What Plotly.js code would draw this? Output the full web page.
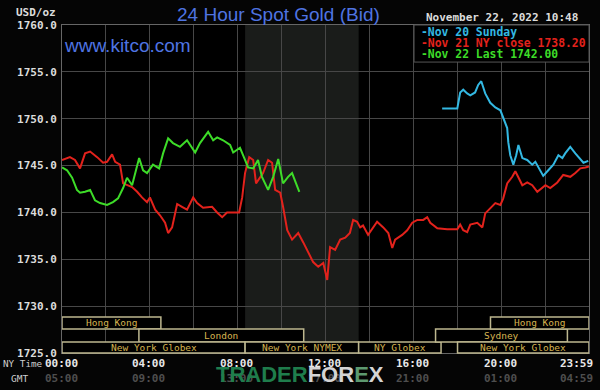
<!DOCTYPE html>
<html>
<head>
<meta charset="utf-8">
<script src="https://cdn.plot.ly/plotly-3.0.1.min.js"></script>
<style>
  html, body { margin: 0; padding: 0; background: #000; }
  #chart { width: 600px; height: 390px; }
</style>
</head>
<body>
<div id="chart"></div>
<script>
// ---- data (hours since 00:00 NY time, price USD/oz) ----
const redT = [0,0.36,0.59,0.82,1.05,1.28,1.6,1.87,2.05,2.28,2.42,2.64,2.78,2.96,3.19,3.42,3.64,3.87,4.0,4.24,4.46,4.69,4.83,5.01,5.24,5.46,5.69,5.97,6.15,6.42,6.83,7.06,7.29,7.51,7.8,8.06,8.2,8.33,8.52,8.7,8.83,9.02,9.15,9.38,9.56,9.7,9.93,10.06,10.25,10.47,10.75,10.98,11.2,11.43,11.66,11.89,12.07,12.2,12.43,12.66,12.89,13.1,13.25,13.43,13.57,13.7,13.93,14.16,14.34,14.62,14.85,15.03,15.16,15.48,15.71,15.94,16.17,16.44,16.62,16.76,17.08,17.53,17.99,18.12,18.26,18.44,18.58,18.9,19.13,19.26,19.49,19.72,19.95,20.08,20.26,20.49,20.63,20.77,20.95,21.17,21.4,21.63,21.86,22.0,22.22,22.54,22.81,23.13,23.36,23.59,23.82,23.98];
const redP = [1745.6,1745.9,1745.6,1744.7,1746.3,1746.5,1745.9,1745.3,1745.4,1746.2,1745.4,1745.1,1743.1,1742.9,1742.7,1742.2,1741.6,1741.1,1741.6,1740.3,1739.7,1738.9,1737.8,1738.4,1740.9,1740.6,1740.3,1741.6,1741.0,1740.5,1740.6,1740.0,1739.5,1740.0,1740.0,1740.0,1741.6,1744.2,1745.9,1745.6,1743.1,1743.8,1744.2,1745.6,1745.3,1742.4,1742.1,1740.6,1738.1,1737.1,1737.8,1736.8,1735.8,1734.7,1734.2,1734.6,1732.8,1736.3,1736.0,1737.1,1737.3,1737.8,1739.2,1739.0,1738.4,1738.6,1737.6,1738.4,1739.0,1738.4,1737.8,1736.2,1737.1,1737.6,1738.1,1738.9,1739.2,1739.2,1739.5,1738.9,1738.3,1738.2,1738.2,1738.7,1738.1,1737.9,1738.7,1738.9,1738.4,1739.9,1740.5,1741.0,1740.8,1741.5,1743.1,1743.8,1744.4,1743.8,1742.9,1743.2,1742.9,1742.2,1742.7,1742.9,1742.6,1743.2,1744.0,1743.8,1744.2,1744.7,1744.8,1744.9];

const greenT = [0,0.23,0.46,0.68,0.82,1.05,1.28,1.5,1.73,2.05,2.32,2.55,2.78,2.96,3.19,3.32,3.51,3.69,3.87,4.14,4.42,4.6,4.83,5.05,5.37,5.69,6.06,6.28,6.65,6.88,7.06,7.33,7.65,7.79,8.1,8.33,8.47,8.7,8.92,9.1,9.38,9.61,9.84,10.06,10.29,10.47,10.7,10.8];
const greenP = [1744.8,1744.5,1743.7,1742.4,1742.1,1742.2,1742.4,1741.3,1741.0,1740.8,1741.1,1741.5,1742.6,1743.7,1742.9,1744.2,1745.8,1744.5,1744.2,1745.1,1744.7,1746.3,1747.9,1747.4,1747.0,1747.7,1746.4,1747.4,1748.6,1747.7,1748.0,1747.7,1747.2,1746.4,1746.9,1745.6,1744.8,1744.7,1745.6,1743.8,1742.4,1743.8,1745.7,1743.1,1743.8,1744.2,1742.7,1742.2];

const blueT = [17.3,17.99,18.12,18.26,18.44,18.58,18.8,18.94,19.08,19.26,19.49,19.72,19.95,20.08,20.26,20.31,20.4,20.54,20.67,20.77,20.95,21.17,21.4,21.54,21.77,21.9,22.13,22.36,22.59,22.77,22.9,23.13,23.36,23.59,23.73,23.95];
const blueP = [1751.1,1751.1,1752.8,1753.1,1752.7,1752.5,1752.8,1753.6,1754.0,1752.7,1751.7,1751.2,1750.9,1750.1,1749.0,1747.5,1746.1,1745.1,1746.1,1747.2,1745.8,1745.6,1745.1,1745.4,1744.5,1743.9,1744.5,1745.1,1746.1,1745.8,1746.3,1747.0,1746.3,1745.7,1745.3,1745.5];

const seriesLabels = ['-Nov 20 Sunday', '-Nov 21 NY close 1738.20', '-Nov 22 Last 1742.00'];

// x tick labels
const tickHours = [0, 4, 8, 12, 16, 20, 23.983];
const nyLabels  = ['00:00','04:00','08:00','12:00','16:00','20:00','23:59'];
const gmtLabels = ['05:00','09:00','13:00','17:00','21:00','01:00','04:59'];

// trading sessions
const sessionNames = ['Hong Kong','London','New York Globex','New York NYMEX','NY Globex','Sydney','Hong Kong','New York Globex'];
const sessionStart = [0, 3.5, 0, 8.333, 13.5, 17, 19.5, 18];
const sessionEnd   = [4.5, 11, 8.333, 13.5, 17.25, 23, 23.983, 23.983];
const sessionRow   = [2, 1, 0, 0, 0, 1, 2, 0];

const nymexStart = 8.333, nymexEnd = 13.5;

// ---- styles ----
const MONO = 'DejaVu Sans Mono, monospace';
const SANS = 'Liberation Sans, Arial, sans-serif';
const COL_RED = '#e3221c', COL_GREEN = '#3ddc28', COL_BLUE = '#33b8e2';
const GOLD = '#d6b450', BOXLINE = '#bdb78f';

const traces = [
  {x: redT, y: redP, mode: 'lines', line: {color: COL_RED, width: 2}, name: seriesLabels[1]},
  {x: greenT, y: greenP, mode: 'lines', line: {color: COL_GREEN, width: 2}, name: seriesLabels[2]},
  {x: blueT, y: blueP, mode: 'lines', line: {color: COL_BLUE, width: 2}, name: seriesLabels[0]}
];

const rowY = [[0, 0.0335], [0.0335, 0.073], [0.073, 0.11]];

const shapes = [
  {type: 'rect', xref: 'x', yref: 'paper', x0: nymexStart, x1: nymexEnd, y0: 0, y1: 1,
   fillcolor: '#1a1c1a', line: {width: 0}, layer: 'below'}
];
const annotations = [];

sessionNames.forEach((n, i) => {
  const r = rowY[sessionRow[i]];
  shapes.push({type: 'rect', xref: 'x', yref: 'paper', x0: sessionStart[i], x1: sessionEnd[i],
    y0: r[0], y1: r[1], fillcolor: '#000', line: {color: BOXLINE, width: 1.5}, layer: 'above'});
  annotations.push({xref: 'x', yref: 'paper', x: (sessionStart[i] + sessionEnd[i]) / 2,
    y: (r[0] + r[1]) / 2, text: n, showarrow: false, xanchor: 'center', yanchor: 'middle',
    font: {family: MONO, size: 9.5, color: GOLD}});
});

// legend box
shapes.push({type: 'rect', xref: 'paper', yref: 'paper', x0: 0.668, x1: 1, y0: 0.887, y1: 1,
  fillcolor: '#000', line: {color: '#555', width: 1}, layer: 'above'});
const legendColors = [COL_BLUE, COL_RED, COL_GREEN];
const legendY = [0.9787, 0.945, 0.9116];
seriesLabels.forEach((t, i) => {
  annotations.push({xref: 'paper', yref: 'paper', x: 0.6774, y: legendY[i], text: t,
    showarrow: false, xanchor: 'left', yanchor: 'middle',
    font: {family: MONO, size: 11.4, color: legendColors[i], weight: 'bold'}});
});

// x tick labels
tickHours.forEach((h, i) => {
  const last = i === tickHours.length - 1;
  annotations.push({xref: 'x', yref: 'paper', x: h, y: 0, yshift: -10, text: nyLabels[i],
    showarrow: false, xanchor: last ? 'right' : 'center', xshift: last ? 6 : -1, yanchor: 'middle',
    font: {family: MONO, size: 11, color: '#e8e8e8', weight: 'bold'}});
  annotations.push({xref: 'x', yref: 'paper', x: h, y: 0, yshift: -25, text: gmtLabels[i],
    showarrow: false, xanchor: last ? 'right' : 'center', xshift: last ? 6 : -1, yanchor: 'middle',
    font: {family: MONO, size: 11, color: '#4e4e4e', weight: 'bold'}});
});

annotations.push(
  {xref: 'paper', yref: 'paper', x: 0, xshift: -61, y: 0, yshift: -10, text: 'NY Time',
   showarrow: false, xanchor: 'left', yanchor: 'middle', font: {family: MONO, size: 9.3, color: '#cfcfcf'}},
  {xref: 'paper', yref: 'paper', x: 0, xshift: -53, y: 0, yshift: -25, text: 'GMT',
   showarrow: false, xanchor: 'left', yanchor: 'middle', font: {family: MONO, size: 9.5, color: '#cfcfcf'}},
  {xref: 'paper', yref: 'paper', x: 0, xshift: -4, y: 1, yshift: 13, text: 'USD/oz',
   showarrow: false, xanchor: 'right', yanchor: 'middle', font: {family: MONO, size: 11, color: '#dcdcdc', weight: 'bold'}},
  {xref: 'paper', yref: 'paper', x: 0, xshift: 0, y: 0.939, text: 'www.kitco.com',
   showarrow: false, xanchor: 'left', yanchor: 'middle', font: {family: SANS, size: 19, color: '#4f74e2'}},
  {xref: 'paper', yref: 'paper', x: 0.834, y: 1, yshift: 8, text: 'November 22, 2022 10:48',
   showarrow: false, xanchor: 'center', yanchor: 'middle', font: {family: MONO, size: 11, color: '#dcdcdc', weight: 'bold'}},
  {xref: 'paper', yref: 'paper', x: 0.4516, y: 0, yshift: -21,
   text: '<span style="color:#1f7d4c">TRADER</span><span style="color:#d4d4d4">FOR</span><span style="color:#5d9a70">E</span><span style="color:#d4d4d4">X</span>',
   showarrow: false, xanchor: 'center', yanchor: 'middle', font: {family: SANS, size: 22, weight: 'bold', color: '#d4d4d4'}}
);

const layout = {
  width: 600, height: 390,
  paper_bgcolor: '#050505', plot_bgcolor: '#000',
  margin: {l: 62, r: 11, t: 25, b: 37},
  showlegend: false,
  title: {text: '24 Hour Spot Gold (Bid)', x: 0.464, xref: 'container', xanchor: 'center',
          y: 0.964, yref: 'container', yanchor: 'middle',
          font: {family: SANS, size: 19, color: '#4f74e2'}},
  xaxis: {range: [0, 23.983], tick0: 0, dtick: 2, showticklabels: false, ticks: '',
          showgrid: true, gridcolor: '#474747', gridwidth: 1, zeroline: false,
          showline: true, linecolor: '#666', linewidth: 1, mirror: true},
  yaxis: {range: [1725, 1760], tick0: 1725, dtick: 5, tickformat: '.1f', ticks: '',
          showgrid: true, gridcolor: '#474747', gridwidth: 1, zeroline: false,
          showline: true, linecolor: '#666', linewidth: 1, mirror: true,
          ticklabelstandoff: 2,
          tickfont: {family: MONO, size: 11, color: '#dcdcdc', weight: 'bold'}},
  shapes: shapes,
  annotations: annotations
};

Plotly.newPlot('chart', traces, layout, {displayModeBar: false, staticPlot: true});
</script>
</body>
</html>
